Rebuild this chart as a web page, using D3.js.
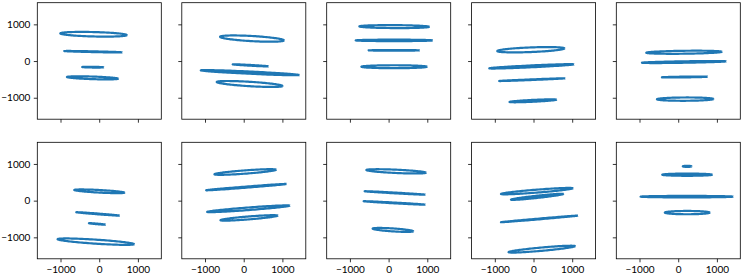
<!DOCTYPE html>
<html>
<head>
<meta charset="utf-8">
<script src="https://cdn.jsdelivr.net/npm/d3@7"></script>
<style>
  body { margin: 0; background: #fff; }
  svg text { font-family: Lato, "Liberation Sans", sans-serif; font-size: 10px; fill: #000; }
</style>
</head>
<body>
<div id="chart"></div>
<script>
// tick values shared by all panels
var tickValues = [-1000, 0, 1000];
var xDomain = [-1600, 1605];
var yDomain = [-1585, 1590];

// each ellipse: [xLeft, yLeft, xRight, yRight, halfHeight] in data units
var row1 = [
  [[-1006, 753, 715, 707, 60], [-903, 272, 593, 237, 10], [-439, -163, 111, -171, 10], [-834, -435, 490, -481, 35]],
  [[-611, 661, 1040, 563, 70], [-284, -90, 635, -144, 10], [-1109, -253, 1435, -381, 30], [-697, -571, 1006, -680, 60]],
  [[-756, 944, 1050, 933, 40], [-851, 563, 1135, 563, 20], [-516, 291, 800, 291, 8], [-704, -155, 991, -155, 40]],
  [[-937, 272, 800, 345, 63], [-1143, -199, 1042, -90, 25], [-885, -544, 818, -471, 8], [-619, -1115, 593, -1053, 25]],
  [[-826, 226, 1127, 253, 40], [-937, -46, 1238, -8, 20], [-421, -443, 756, -427, 10], [-550, -1042, 911, -1034, 45]]
];
var row2 = [
  [[-645, 291, 653, 218, 35], [-593, -316, 524, -408, 10], [-266, -615, 155, -653, 8], [-1076, -1050, 903, -1186, 55]],
  [[-756, 718, 836, 843, 45], [-970, 283, 1102, 454, 15], [-944, -307, 1187, -136, 35], [-601, -533, 877, -408, 40]],
  [[-575, 835, 965, 762, 45], [-619, 256, 947, 163, 10], [-645, -16, 947, -109, 10], [-413, -762, 637, -834, 40]],
  [[-841, 182, 1016, 337, 40], [-583, 27, 774, 182, 30], [-841, -588, 1146, -408, 10], [-645, -1404, 1076, -1240, 45]],
  [[119, 935, 343, 935, 15], [-413, 707, 877, 707, 30], [-973, 109, 1419, 109, 20], [-346, -326, 815, -326, 45]]
];

var width = 747, height = 279;
var panelW = 124, panelH = 116.5;
var lefts = [37.3, 181.8, 326.7, 471.6, 616.3];
var tops = [2.7, 142.3];
var color = '#1f77b4';

var svg = d3.select('#chart').append('svg')
  .attr('width', width)
  .attr('height', height);

var x = d3.scaleLinear().domain(xDomain).range([0, panelW]);
var y = d3.scaleLinear().domain(yDomain).range([panelH, 0]);

function ellipsePoints(e) {
  var cx = (e[0] + e[2]) / 2, cy = (e[1] + e[3]) / 2;
  var ux = (e[2] - e[0]) / 2, uy = (e[3] - e[1]) / 2;
  var pts = [];
  for (var k = 0; k <= 120; k++) {
    var t = (k / 120) * Math.PI * 2;
    pts.push([cx + ux * Math.cos(t), cy + uy * Math.cos(t) + e[4] * Math.sin(t)]);
  }
  return pts;
}

var line = d3.line()
  .x(d => x(d[0]))
  .y(d => y(d[1]));

[row1, row2].forEach(function(row, r) {
  row.forEach(function(ellipses, c) {
    var g = svg.append('g')
      .attr('transform', `translate(${lefts[c]}, ${tops[r]})`);

    g.selectAll('path.ell')
      .data(ellipses)
      .enter()
      .append('path')
      .attr('class', 'ell')
      .attr('d', d => line(ellipsePoints(d)))
      .attr('fill', 'none')
      .attr('stroke', color)
      .attr('stroke-width', 2.2)
      .attr('stroke-linejoin', 'round');

    // axes
    var xAxis = d3.axisBottom(x).tickValues(tickValues).tickSize(3.5).tickPadding(3.5)
      .tickFormat(r === 1 ? (d => d < 0 ? '\u2212' + Math.abs(d) : d) : '');
    var yAxis = d3.axisLeft(y).tickValues(tickValues).tickSize(3.5).tickPadding(3.5)
      .tickFormat(c === 0 ? (d => d < 0 ? '\u2212' + Math.abs(d) : d) : '');

    var gx = g.append('g').attr('transform', `translate(0, ${panelH})`).call(xAxis);
    var gy = g.append('g').call(yAxis);
    [gx, gy].forEach(function(a) {
      a.select('.domain').remove();
      a.selectAll('line').attr('stroke', '#000').attr('stroke-width', 0.8);
      a.selectAll('text').attr('fill', '#000').style('font-size', '10px');
    });

    g.append('rect')
      .attr('x', 0)
      .attr('y', 0)
      .attr('width', panelW)
      .attr('height', panelH)
      .attr('fill', 'none')
      .attr('stroke', '#000')
      .attr('stroke-width', 0.8);
  });
});
</script>
</body>
</html>
